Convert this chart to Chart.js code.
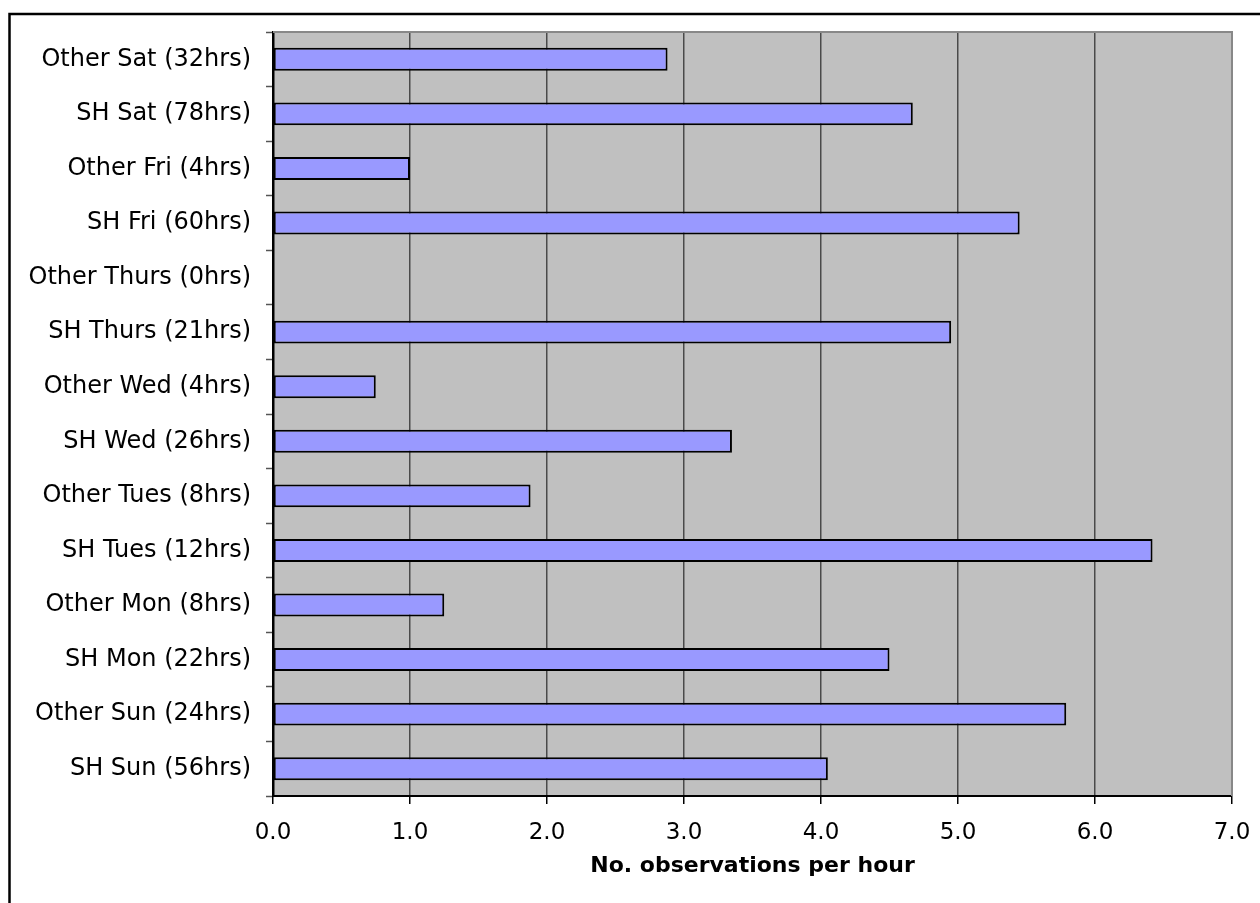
<!DOCTYPE html>
<html>
<head>
<meta charset="utf-8">
<title>No. observations per hour</title>
<script src="https://cdn.jsdelivr.net/npm/chart.js@4/dist/chart.umd.min.js"></script>
<style>
  html, body { margin: 0; padding: 0; background: #fff; overflow: hidden; }
  canvas { display: block; }
</style>
</head>
<body>
<canvas id="obsChart" width="1260" height="903"></canvas>
<script>
// categories, top to bottom
const categories = [
    'Other Sat (32hrs)', 'SH Sat (78hrs)', 'Other Fri (4hrs)', 'SH Fri (60hrs)',
    'Other Thurs (0hrs)', 'SH Thurs (21hrs)', 'Other Wed (4hrs)', 'SH Wed (26hrs)',
    'Other Tues (8hrs)', 'SH Tues (12hrs)', 'Other Mon (8hrs)', 'SH Mon (22hrs)',
    'Other Sun (24hrs)', 'SH Sun (56hrs)'
];
const obsPerHour = [2.88, 4.67, 1.0, 5.45, 0, 4.95, 0.75, 3.35, 1.88, 6.42, 1.25, 4.5, 5.79, 4.05];
const xTicks = [0, 1, 2, 3, 4, 5, 6, 7];
const xTitle = 'No. observations per hour';

// grey plot background, plot frame and the outer box
const frameBits = {
    id: 'frameBits',
    beforeDraw(chart) {
        const { ctx, chartArea: a } = chart;
        ctx.save();
        ctx.fillStyle = '#c0c0c0';
        ctx.fillRect(a.left, a.top, a.right - a.left, a.bottom - a.top);
        ctx.restore();
    },
    beforeDatasetsDraw(chart) {
        const { ctx, chartArea: a } = chart;
        ctx.save();
        ctx.strokeStyle = '#888';
        ctx.lineWidth = 2;
        ctx.beginPath();
        ctx.moveTo(a.left, a.top);
        ctx.lineTo(a.right, a.top);
        ctx.lineTo(a.right, a.bottom);
        ctx.stroke();
        ctx.restore();
    },
    afterDraw(chart) {
        const ctx = chart.ctx;
        ctx.save();
        ctx.strokeStyle = '#000';
        ctx.lineWidth = 2.5;
        ctx.strokeRect(9.5, 14, 1400, 1000);
        ctx.restore();
    }
};

new Chart(document.getElementById('obsChart').getContext('2d'), {
    type: 'bar',
    data: {
        labels: categories,
        datasets: [{
            data: obsPerHour,
            backgroundColor: '#9999ff',
            borderColor: '#000',
            borderWidth: 2,
            borderSkipped: false,
            barPercentage: 0.42,
            categoryPercentage: 1.0
        }]
    },
    options: {
        indexAxis: 'y',
        responsive: false,
        animation: false,
        layout: { padding: { left: 0, top: 32, right: 28, bottom: 0 } },
        plugins: {
            legend: { display: false },
            tooltip: { enabled: false }
        },
        scales: {
            x: {
                min: 0,
                max: 7,
                afterFit(scale) {
                    scale.height = 107;
                    scale.paddingLeft = 0;
                    scale.paddingRight = 0;
                },
                afterBuildTicks(scale) { scale.ticks = xTicks.map(v => ({ value: v })); },
                ticks: {
                    color: '#000',
                    font: { family: 'DejaVu Sans', size: 23 },
                    padding: 15,
                    maxRotation: 0,
                    callback: v => Number(v).toFixed(1)
                },
                grid: {
                    color: ctx => ctx.tick && ctx.tick.value === 7 ? '#888' : '#4a4a4a',
                    lineWidth: 1.5,
                    tickColor: '#000',
                    tickLength: 8,
                    tickWidth: 1.5
                },
                border: { display: true, color: '#000', width: 2 },
                title: {
                    display: true,
                    text: xTitle,
                    color: '#000',
                    font: { family: 'DejaVu Sans', size: 22, weight: 'bold' },
                    padding: { top: 0, bottom: 24 }
                }
            },
            y: {
                afterFit(scale) { scale.width = 273; },
                ticks: {
                    color: '#000',
                    font: { family: 'DejaVu Sans', size: 24 },
                    padding: 15,
                    autoSkip: false
                },
                grid: {
                    offset: true,
                    drawOnChartArea: false,
                    drawTicks: true,
                    tickLength: 7,
                    tickColor: '#555',
                    tickWidth: 1.5
                },
                border: { display: true, color: '#000', width: 2.5 }
            }
        }
    },
    plugins: [frameBits]
});
</script>
</body>
</html>
